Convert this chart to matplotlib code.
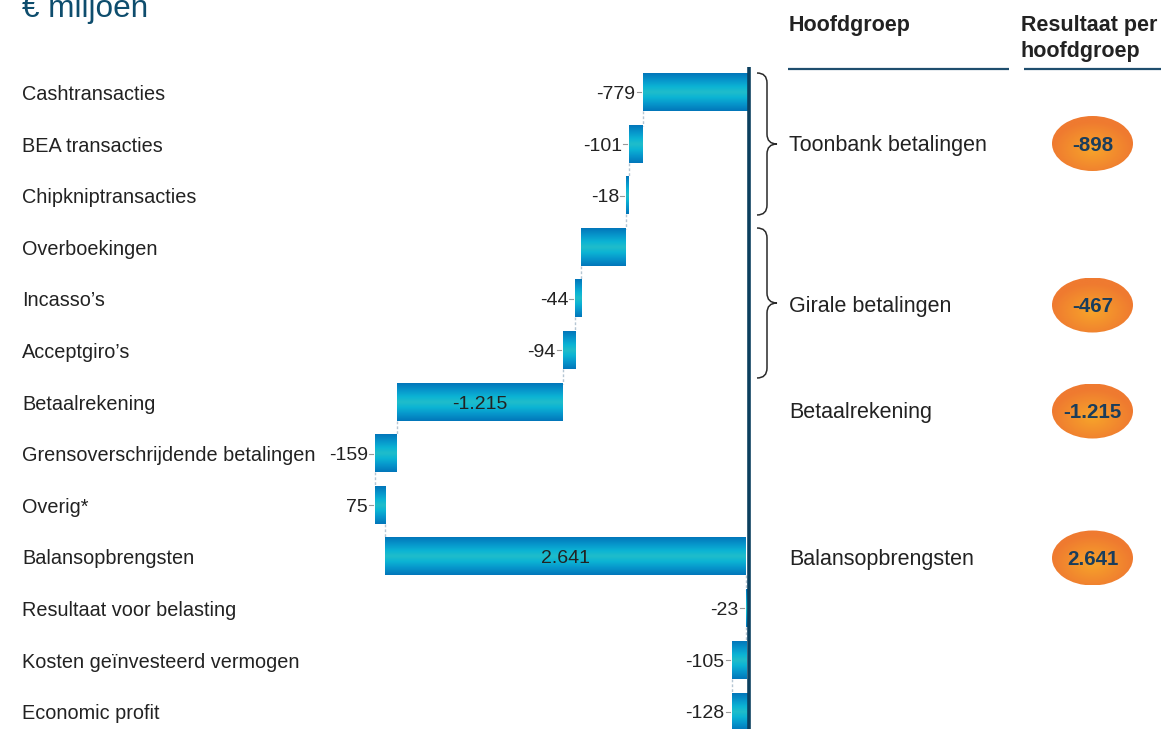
import numpy as np
import matplotlib
matplotlib.use("Agg")
import matplotlib.pyplot as plt
from matplotlib.colors import LinearSegmentedColormap
from matplotlib.patches import Ellipse, PathPatch
from matplotlib.path import Path
import matplotlib.transforms as mtransforms

plt.rcParams['font.family'] = ['Liberation Sans', 'DejaVu Sans']

# ---------------- data ----------------
categories = ["Cashtransacties", "BEA transacties", "Chipkniptransacties", "Overboekingen",
              "Incasso\u2019s", "Acceptgiro\u2019s", "Betaalrekening",
              "Grensoverschrijdende betalingen", "Overig*", "Balansopbrengsten",
              "Resultaat voor belasting", "Kosten ge\u00efnvesteerd vermogen", "Economic profit"]
values = [-779, -101, -18, -329, -44, -94, -1215, -159, 75, 2641, -23, -105, -128]
measure = ["rel"] * 10 + ["total", "rel", "total"]
value_labels = ["-779", "-101", "-18", "", "-44", "-94", "-1.215", "-159", "75",
                "2.641", "-23", "-105", "-128"]
label_inside = [False] * 6 + [True, False, False, True, False, False, False]

groups = ["Toonbank betalingen", "Girale betalingen", "Betaalrekening", "Balansopbrengsten"]
group_totals = ["-898", "-467", "-1.215", "2.641"]

# ---------------- layout ----------------
W, H = 1161, 729
fig = plt.figure(figsize=(W / 100, H / 100), dpi=100)

scale = 0.1366      # px per unit
zero_px = 749
px0, px1 = 300, 760
py_top, py_bot = 67, 729
row0_px, row_step = 92.5, 51.6
txt_dy = 2.0 / row_step   # small downward shift for text centring

ax = fig.add_axes([px0 / W, 1 - py_bot / H, (px1 - px0) / W, (py_bot - py_top) / H])
ax.axis('off')

cmap = LinearSegmentedColormap.from_list(
    "bar", [(0.0, "#0276ba"), (0.2, "#0798cc"), (0.36, "#0cb4d4"),
            (0.5, "#20bdca"), (0.64, "#0cb4d4"), (0.8, "#0798cc"), (1.0, "#0276ba")])
grad = np.linspace(0, 1, 128).reshape(-1, 1)

half = 0.36
cum = 0
starts, ends = [], []
for v, m in zip(values, measure):
    if m == "total":
        s, e = 0, v
    else:
        s, e = cum, cum + v
    cum = e
    starts.append(s)
    ends.append(e)

for i, (s, e) in enumerate(zip(starts, ends)):
    lo, hi = min(s, e), max(s, e)
    ax.imshow(grad, extent=[lo, hi, i + half, i - half], cmap=cmap, aspect='auto',
              interpolation='bilinear', zorder=2)
    lab = value_labels[i]
    if lab:
        if label_inside[i]:
            ax.text((lo + hi) / 2, i + txt_dy, lab, ha='center', va='center', fontsize=14,
                    color='#222222', zorder=4)
        else:
            ax.text(lo - 7 / scale, i + txt_dy, lab, ha='right', va='center', fontsize=14,
                    color='#222222', zorder=4)
            ax.plot([lo - 6 / scale, lo - 2 / scale], [i, i], color='#9a9a9a', lw=0.8, zorder=3)

for i in range(len(values) - 1):
    x = ends[i]
    ax.plot([x, x], [i + half, i + 1 - half], color='#b5c6d3', lw=1.0,
            ls=(0, (2, 1.5)), zorder=1)

ax.axvline(0, color='#0b3f5e', lw=2.6, zorder=5)

ax.set_xlim((px0 - zero_px) / scale, (px1 - zero_px) / scale)
ax.set_ylim((py_bot - row0_px) / row_step, (py_top - row0_px) / row_step)

# category labels
trans = mtransforms.blended_transform_factory(fig.transFigure, ax.transData)
for i, c in enumerate(categories):
    ax.text(22 / W, i + txt_dy, c, transform=trans, ha='left', va='center', fontsize=14.3,
            color='#222222')

# ---------------- overlay ----------------
ax2 = fig.add_axes([0, 0, 1, 1])
ax2.set_xlim(0, W)
ax2.set_ylim(H, 0)
ax2.axis('off')
ax2.patch.set_visible(False)

ax2.text(22, 17, "\u20ac miljoen", ha='left', va='baseline', fontsize=22.7, color='#0e4d6d')

ax2.text(789, 25, "Hoofdgroep", ha='left', va='center', fontsize=15.5, fontweight='bold',
         color='#222222')
ax2.text(1021, 25, "Resultaat per", ha='left', va='center', fontsize=15.5, fontweight='bold',
         color='#222222')
ax2.text(1021, 51, "hoofdgroep", ha='left', va='center', fontsize=15.5, fontweight='bold',
         color='#222222')
ax2.plot([788, 1009], [69, 69], color='#1f4e6e', lw=1.6, solid_capstyle='butt')
ax2.plot([1024, 1161], [69, 69], color='#1f4e6e', lw=1.6, solid_capstyle='butt')


def brace(x0, y0, y1, depth=20, r=10):
    xm = x0 + depth / 2
    xt = x0 + depth
    ym = (y0 + y1) / 2
    verts = [(x0, y0), (xm, y0), (xm, y0 + r), (xm, ym - r), (xm, ym), (xt, ym),
             (xm, ym), (xm, ym + r), (xm, y1 - r), (xm, y1), (x0, y1)]
    codes = [Path.MOVETO, Path.CURVE3, Path.CURVE3, Path.LINETO, Path.CURVE3, Path.CURVE3,
             Path.CURVE3, Path.CURVE3, Path.LINETO, Path.CURVE3, Path.CURVE3]
    ax2.add_patch(PathPatch(Path(verts, codes), facecolor='none', edgecolor='#2a2a2a', lw=1.1))


brace(757, 73, 215)
brace(757, 228, 378)

group_y = [143.5, 305, 411, 558]
ecx, ew, eh = 1092.5, 81, 55
ny, nx = 80, 120
yy, xx = np.mgrid[-1:1:ny * 1j, -1:1:nx * 1j]
rr = np.sqrt(xx ** 2 + (yy - 0.2) ** 2)
c_in = np.array([247, 165, 42]) / 255
c_out = np.array([239, 122, 48]) / 255
t = np.clip(rr, 0, 1)[..., None]
img = c_in * (1 - t) + c_out * t

for g, tot, gy in zip(groups, group_totals, group_y):
    ax2.text(789, gy + 1.5, g, ha='left', va='center', fontsize=15.5, color='#222222')
    ell = Ellipse((ecx, gy), ew, eh, facecolor='none', edgecolor='none')
    ax2.add_patch(ell)
    im = ax2.imshow(img, extent=[ecx - ew / 2, ecx + ew / 2, gy + eh / 2, gy - eh / 2],
                    aspect='auto', interpolation='bilinear', zorder=2)
    im.set_clip_path(ell)
    ax2.text(ecx, gy + 1.5, tot, ha='center', va='center', fontsize=14.8, fontweight='bold',
             color='#1a3d5c', zorder=3)

ax2.set_xlim(0, W)
ax2.set_ylim(H, 0)

fig.savefig("out.png", dpi=100)
